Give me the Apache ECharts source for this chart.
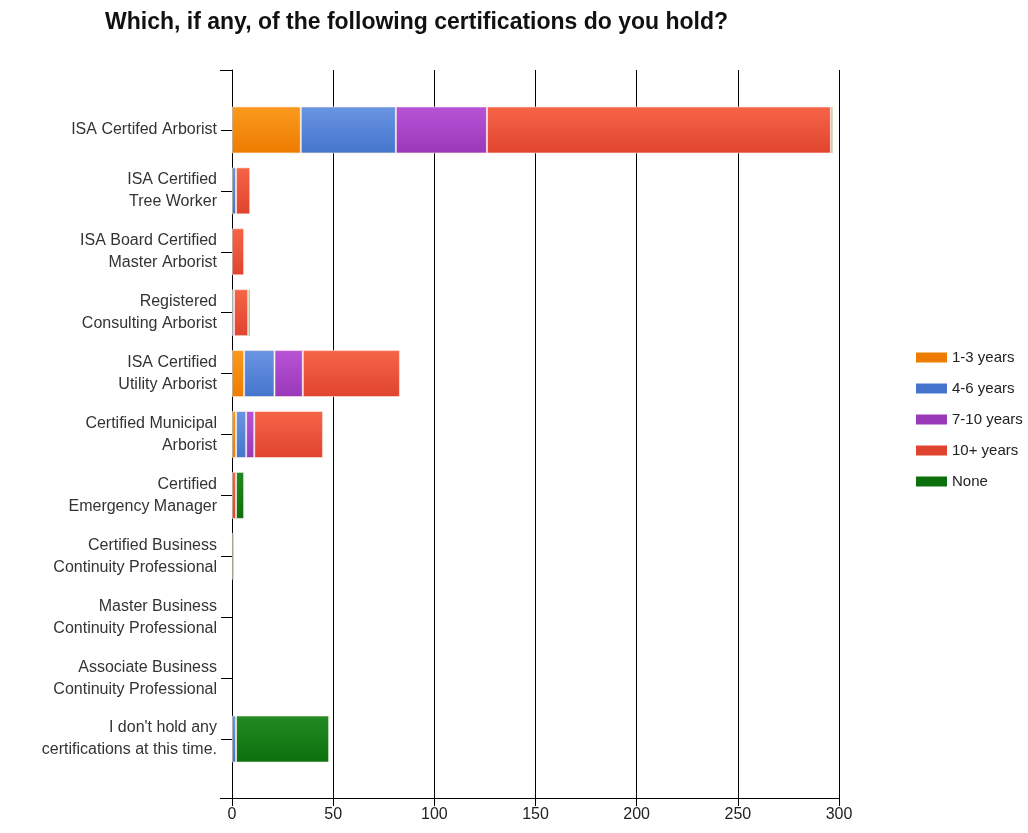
<!DOCTYPE html>
<html><head><meta charset="utf-8">
<script src="https://cdn.jsdelivr.net/npm/echarts@6/dist/echarts.min.js"></script>
<style>html,body{margin:0;padding:0;background:#fff}#c{width:1028px;height:833px}</style>
</head><body><div id="c"></div>
<script>
const categories = [
  "ISA Certifed Arborist",
  "ISA Certified\nTree Worker",
  "ISA Board Certified\nMaster Arborist",
  "Registered\nConsulting Arborist",
  "ISA Certified\nUtility Arborist",
  "Certified Municipal\nArborist",
  "Certified\nEmergency Manager",
  "Certified Business\nContinuity Professional",
  "Master Business\nContinuity Professional",
  "Associate Business\nContinuity Professional",
  "I don't hold any\ncertifications at this time."
];
const years1to3  = [34, 0, 0, 0, 6, 2, 0, 0, 0, 0, 0];
const years4to6  = [47, 2, 0, 1, 15, 5, 0, 0, 0, 0, 2];
const years7to10 = [45, 0, 0, 0, 14, 4, 0, 0, 0, 0, 0];
const years10plus= [170, 7, 6, 7, 48, 34, 2, 0, 0, 0, 0];
const yearsNone  = [1, 0, 0, 1, 0, 0, 4, 1, 0, 0, 46];
const seriesNames = ["1-3 years", "4-6 years", "7-10 years", "10+ years", "None"];
const xTicks = [0, 50, 100, 150, 200, 250, 300];

const colors = [
  ["#FA9A1E", "#EE7C00"],
  ["#6A95E2", "#4474CC"],
  ["#B853D6", "#9A38BA"],
  ["#F66548", "#E0442E"],
  ["#238A23", "#0B700B"]
];
const grad = (c) => new echarts.graphic.LinearGradient(0, 0, 0, 1, [{offset: 0, color: c[0]}, {offset: 1, color: c[1]}]);
const dataSets = [years1to3, years4to6, years7to10, years10plus, yearsNone];
const FONT = 'Liberation Sans, Arial, sans-serif';

const chart = echarts.init(document.getElementById('c'));
const L = 232, R = 1028 - 839;
chart.setOption({
  animation: false,
  backgroundColor: '#fff',
  title: {
    text: 'Which, if any, of the following certifications do you hold?',
    left: 100, top: 6,
    textStyle: {fontFamily: FONT, fontWeight: 'bold', fontSize: 23, color: '#111'}
  },
  legend: {
    orient: 'vertical', left: 911, top: 345, itemWidth: 31, itemHeight: 10, itemGap: 16, icon: 'rect',
    data: seriesNames.map((n, i) => ({name: n, itemStyle: {color: colors[i][1], borderWidth: 0}})),
    textStyle: {fontFamily: FONT, fontSize: 15, color: '#222'}
  },
  grid: [
    {left: L, right: R, top: 70, bottom: 35},
    {left: L, right: R, top: 99.5, bottom: 63.5}
  ],
  xAxis: [
    {gridIndex: 0, type: 'value', min: xTicks[0], max: xTicks[xTicks.length - 1], interval: 50,
     axisLine: {show: true, lineStyle: {color: '#000', width: 1}},
     axisTick: {show: true, length: 8, lineStyle: {color: '#000'}},
     axisLabel: {fontFamily: FONT, fontSize: 16, color: '#222', margin: 9},
     splitLine: {show: true, lineStyle: {color: '#000', width: 1}}},
    {gridIndex: 1, type: 'value', min: 0, max: 300, show: false}
  ],
  yAxis: [
    {gridIndex: 0, type: 'value', min: 0, max: 1, interval: 1,
     axisLine: {show: true, lineStyle: {color: '#000', width: 1}},
     axisTick: {show: true, length: 12, lineStyle: {color: '#000'}},
     axisLabel: {show: false}, splitLine: {show: false}},
    {gridIndex: 1, type: 'category', inverse: true, data: categories,
     axisLine: {show: false},
     axisTick: {show: true, alignWithLabel: true, length: 11, lineStyle: {color: '#000'}},
     axisLabel: {fontFamily: FONT, fontSize: 16, color: '#333', margin: 15, lineHeight: 22, align: 'right'}}
  ],
  series: dataSets.map((d, i) => ({
    name: seriesNames[i], type: 'bar', stack: 'total', xAxisIndex: 1, yAxisIndex: 1,
    barWidth: 47, data: d.map(v => v === 0 ? '-' : v),
    itemStyle: {color: grad(colors[i]), borderColor: 'rgba(255,240,230,0.6)', borderWidth: 1}
  }))
});
</script></body></html>
